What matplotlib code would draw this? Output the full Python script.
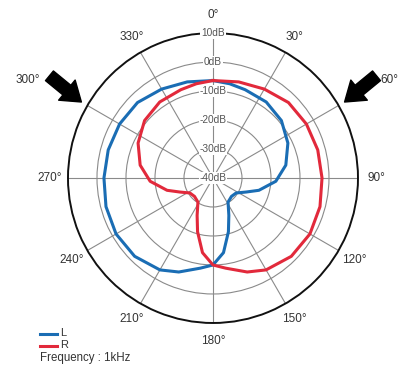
import numpy as np
import matplotlib
matplotlib.use('Agg')
import matplotlib.pyplot as plt
from matplotlib.lines import Line2D

plt.rcParams['font.family'] = ['Liberation Sans', 'DejaVu Sans']

# right channel, angle in degrees (clockwise from front) and level in dB
r_angles = [0, 15, 30, 45, 60, 75, 90, 105, 120, 135, 150, 160, 172, 180, 188,
            196, 203, 212, 225, 237, 247, 255, 267, 280, 295, 310, 325, 340, 350, 360]
r_db = [-6.4, -5.7, -4.6, -3.2, -2.8, -2.6, -2.4, -1.8, -1.4, -1.8, -3.4, -5.5, -8.6, -10, -14,
        -20.7, -26, -30.2, -31, -30.5, -27.6, -23.6, -18.3, -14.5, -11.5, -9.2, -8, -7.6, -7.0, -6.4]

# left channel
l_angles = [0, 10, 20, 35, 50, 65, 80, 93, 105, 113, 123, 135, 148, 157, 164,
            172, 180, 188, 200, 210, 225, 240, 255, 270, 285, 300, 315, 330, 345, 360]
l_db = [-6.4, -7.0, -7.6, -8, -9.2, -11.5, -14.5, -18.3, -23.6, -27.6, -30.5, -31, -30.2, -26, -20.7,
        -14, -10, -8.6, -5.5, -3.4, -1.8, -1.4, -1.8, -2.4, -2.6, -2.8, -3.2, -4.6, -5.7, -6.4]

ring_db = [10, 0, -10, -20, -30, -40]
ring_labels = ['10dB', '0dB', '-10dB', '-20dB', '-30dB', '-40dB']
spoke_angles = [0, 30, 60, 90, 120, 150, 180, 210, 240, 270, 300, 330]
angle_labels = ['0°', '30°', '60°', '90°', '120°', '150°', '180°', '210°', '240°', '270°', '300°', '330°']

fig = plt.figure(figsize=(3.99, 3.71), dpi=100)
ax = fig.add_axes([0.1704, 0.1294, 0.7268, 0.7817], projection='polar')
ax.set_theta_zero_location('N')
ax.set_theta_direction(-1)
ax.set_ylim(-40, 10)

ax.set_thetagrids(spoke_angles, labels=[''] * len(spoke_angles))
ax.set_rgrids([-30, -20, -10, 0], labels=[''] * 4)
ax.grid(True, color='#8a8a8a', linewidth=0.8)
ax.spines['polar'].set_color('#111111')
ax.spines['polar'].set_linewidth(1.4)
ax.tick_params(length=0)

ax.plot(np.radians(l_angles), l_db, color='#1a6db4', linewidth=2.2)
ax.plot(np.radians(r_angles), r_db, color='#e2293b', linewidth=2.2)

# dB labels along the 0 degree spoke
for v, lab in zip(ring_db, ring_labels):
    ax.text(0, v, lab, ha='center', va='center', fontsize=7.3, color='#555555',
            bbox=dict(boxstyle='square,pad=0.08', fc='white', ec='none'), zorder=5)

# angle labels around the circle (300 and 60 sit far out beside the arrows)
for a, lab in zip(spoke_angles, angle_labels):
    if a == 300:
        fig.text(28 / 399, 1 - 80 / 371, lab, ha='center', va='center', fontsize=8.5, color='#333333')
    elif a == 60:
        fig.text(0.998, 1 - 80 / 371, lab, ha='right', va='center', fontsize=8.5, color='#333333')
    else:
        ax.text(np.radians(a), 16.3, lab, ha='center', va='center', fontsize=8.5,
                color='#333333', clip_on=False)

# source arrows
for a in (300, 60):
    ax.annotate('', xy=(np.radians(a), 12.4), xytext=(np.radians(a + (-2 if a == 60 else 2)), 26.5),
                annotation_clip=False,
                arrowprops=dict(arrowstyle='simple,head_length=0.9,head_width=1.25,tail_width=0.6',
                                color='black', mutation_scale=15, shrinkA=0, shrinkB=0))

# legend
fig.add_artist(Line2D([40 / 399, 57 / 399], [1 - 334 / 371] * 2, color='#1a6db4', linewidth=2.2))
fig.add_artist(Line2D([40 / 399, 57 / 399], [1 - 346 / 371] * 2, color='#e2293b', linewidth=2.2))
fig.text(60 / 399, 1 - 333 / 371, 'L', fontsize=8, color='#333333', va='center')
fig.text(60 / 399, 1 - 345 / 371, 'R', fontsize=8, color='#333333', va='center')
fig.text(40 / 399, 1 - 358 / 371, 'Frequency : 1kHz', fontsize=8.3, color='#333333', va='center')

fig.savefig('out.png', dpi=100)
